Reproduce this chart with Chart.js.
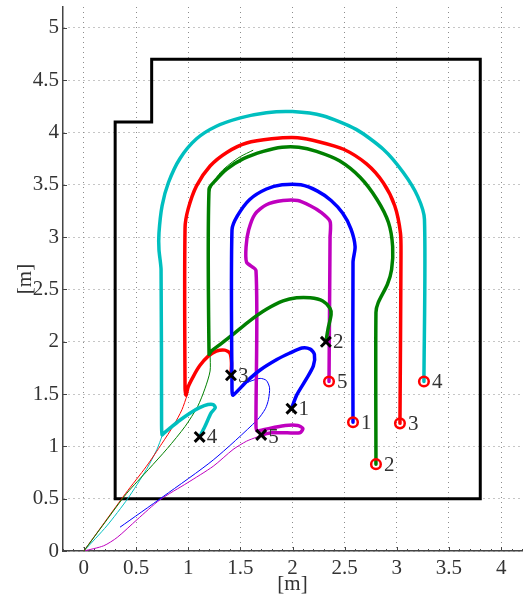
<!DOCTYPE html>
<html>
<head>
<meta charset="utf-8">
<script src="https://cdn.jsdelivr.net/npm/chart.js@4/dist/chart.umd.min.js"></script>
<style>
  html, body { margin: 0; padding: 0; background: #fff; }
</style>
</head>
<body>
<canvas id="chart" width="524" height="599"></canvas>
<script>
// axis ticks
const xTicks = [0, 0.5, 1, 1.5, 2, 2.5, 3, 3.5, 4];
const yTicks = [0, 0.5, 1, 1.5, 2, 2.5, 3, 3.5, 4, 4.5, 5];

// room outline
const wallX = [0.3, 0.3, 0.65, 0.65, 3.8, 3.8, 0.3];
const wallY = [0.5, 4.1, 4.1, 4.7, 4.7, 0.5, 0.5];

// start (x) and goal (o) of each robot
const robotNames = ['1', '2', '3', '4', '5'];
const startX = [1.99, 2.32, 1.41, 1.11, 1.70];
const startY = [1.36, 2.00, 1.68, 1.09, 1.11];
const endX = [2.58, 2.80, 3.03, 3.26, 2.35];
const endY = [1.23, 0.83, 1.22, 1.62, 1.62];
const colors = ['#0000ff', '#008000', '#ff0000', '#00bfbf', '#bf00bf'];

// thick paths (start -> goal)
const path1 = [[1.99,1.36],[2.04,1.49],[2.13,1.64],[2.20,1.77],[2.21,1.88],[2.17,1.93],[2.09,1.94],[1.97,1.89],[1.85,1.83],[1.69,1.73],[1.56,1.62],[1.43,1.49],[1.42,1.55],[1.42,3.07],[1.47,3.20],[1.59,3.36],[1.75,3.46],[1.90,3.50],[2.08,3.50],[2.24,3.44],[2.37,3.35],[2.48,3.23],[2.56,3.08],[2.60,2.91],[2.58,2.76],[2.58,1.23]];
const path2 = [[2.32,2.00],[2.34,2.12],[2.37,2.26],[2.36,2.32],[2.29,2.39],[2.17,2.42],[2.04,2.42],[1.91,2.39],[1.75,2.31],[1.59,2.20],[1.43,2.07],[1.30,1.97],[1.22,1.91],[1.20,1.88],[1.20,3.46],[1.26,3.54],[1.37,3.65],[1.53,3.75],[1.72,3.82],[1.90,3.86],[2.06,3.86],[2.23,3.82],[2.45,3.73],[2.65,3.57],[2.81,3.36],[2.92,3.14],[2.96,2.91],[2.95,2.69],[2.91,2.55],[2.82,2.37],[2.80,2.28],[2.80,0.83]];
const path3 = [[1.41,1.68],[1.415,1.80],[1.40,1.89],[1.35,1.92],[1.27,1.91],[1.19,1.86],[1.11,1.77],[1.05,1.67],[1.00,1.57],[0.98,1.49],[0.97,1.55],[0.97,3.09],[1.00,3.27],[1.08,3.49],[1.21,3.68],[1.37,3.81],[1.56,3.90],[1.80,3.94],[2.05,3.95],[2.26,3.91],[2.49,3.84],[2.71,3.70],[2.87,3.52],[2.98,3.30],[3.035,3.04],[3.04,2.82],[3.03,1.22]];
const path4 = [[1.11,1.09],[1.16,1.19],[1.22,1.32],[1.26,1.37],[1.24,1.40],[1.19,1.40],[1.11,1.37],[1.02,1.32],[0.92,1.25],[0.82,1.17],[0.76,1.12],[0.75,1.11],[0.745,1.2],[0.74,2.69],[0.72,2.88],[0.72,3.04],[0.75,3.30],[0.81,3.52],[0.92,3.75],[1.08,3.94],[1.27,4.06],[1.50,4.14],[1.75,4.19],[2.0,4.20],[2.29,4.16],[2.61,4.03],[2.87,3.84],[3.06,3.62],[3.20,3.39],[3.265,3.17],[3.26,1.62]];
const path5 = [[1.70,1.11],[1.80,1.13],[1.95,1.13],[2.07,1.13],[2.10,1.17],[2.05,1.20],[1.93,1.20],[1.82,1.18],[1.72,1.16],[1.66,1.15],[1.65,1.2],[1.65,2.68],[1.56,2.76],[1.555,2.91],[1.58,3.07],[1.64,3.22],[1.75,3.31],[1.91,3.35],[2.05,3.35],[2.17,3.30],[2.27,3.24],[2.36,3.15],[2.36,3.0],[2.35,1.62]];

// thin approach lines
const thin1 = [[0.35,0.23],[0.76,0.52],[1.24,0.87],[1.66,1.25],[1.74,1.36],[1.77,1.45],[1.78,1.56],[1.75,1.63],[1.69,1.65],[1.59,1.62],[1.50,1.57],[1.43,1.50]];
const thin2 = [[0,0],[0.2,0.27],[0.41,0.55],[0.62,0.78],[0.80,0.98],[0.97,1.19],[1.09,1.38],[1.16,1.55],[1.21,1.72],[1.21,1.88]];
const thin2b = [[1.20,3.42],[1.24,3.52],[1.31,3.62],[1.40,3.70],[1.50,3.77],[1.62,3.83]];
const thin3 = [[0,0],[0.40,0.55],[0.60,0.81],[0.75,1.03],[0.86,1.20],[0.94,1.35],[0.99,1.49]];
const thin4 = [[0,0],[0.22,0.24],[0.42,0.50],[0.60,0.78],[0.70,0.97],[0.75,1.10]];
const thin5 = [[0,0],[0.19,0.05],[0.32,0.13],[0.51,0.30],[0.73,0.49],[0.99,0.65],[1.24,0.81],[1.43,0.97],[1.56,1.05],[1.66,1.09],[1.70,1.11]];

const FONT = '"Liberation Serif", serif';
const pts = arr => arr.map(([x, y]) => ({ x, y }));
const zip = (xs, ys) => xs.map((x, i) => ({ x, y: ys[i] }));

function lineSet(data, color, width) {
    return {
        data: data,
        showLine: true,
        borderColor: color,
        borderWidth: width,
        pointRadius: 0,
        tension: 0.25,
        borderJoinStyle: 'round',
        borderCapStyle: 'round',
    };
}

// labels next to the markers
const labelPlugin = {
    id: 'robotLabels',
    afterDatasetsDraw(chart) {
        const { ctx, scales: { x, y } } = chart;
        ctx.save();
        ctx.font = '21px ' + FONT;
        ctx.fillStyle = '#333';
        ctx.textBaseline = 'middle';
        robotNames.forEach((name, i) => {
            ctx.fillText(name, x.getPixelForValue(startX[i]) + 7, y.getPixelForValue(startY[i]) + (i === 4 ? 3 : 1));
            ctx.fillText(name, x.getPixelForValue(endX[i]) + 8, y.getPixelForValue(endY[i]) + 1);
        });
        ctx.restore();
    }
};

// small inward tick marks like the original plot
const tickPlugin = {
    id: 'innerTicks',
    beforeDatasetsDraw(chart) {
        const { ctx, chartArea: a, scales: { x, y } } = chart;
        ctx.save();
        ctx.strokeStyle = '#444';
        ctx.lineWidth = 1;
        ctx.beginPath();
        for (let k = -2; k <= 42; k++) {
            const px = Math.round(x.getPixelForValue(k / 10)) + 0.5;
            const len = k % 5 === 0 ? 4 : 2;
            ctx.moveTo(px, a.bottom);
            ctx.lineTo(px, a.bottom - len);
        }
        yTicks.forEach(v => {
            const py = Math.round(y.getPixelForValue(v)) + 0.5;
            ctx.moveTo(a.left, py);
            ctx.lineTo(a.left + 4, py);
        });
        ctx.stroke();
        ctx.restore();
    }
};

function noPad(s) {
    s.paddingTop = 0;
    s.paddingBottom = 0;
    s.paddingLeft = 0;
    s.paddingRight = 0;
}

const ctx = document.getElementById('chart');
const myChart = new Chart(ctx, {
    type: 'scatter',
    data: {
        datasets: [
            {
                data: zip(startX, startY),
                pointStyle: 'crossRot',
                pointRadius: 7,
                borderColor: '#000',
                borderWidth: 3,
            },
            {
                data: zip(endX, endY),
                pointStyle: 'circle',
                pointRadius: 4.8,
                borderColor: '#ff0000',
                backgroundColor: 'rgba(0,0,0,0)',
                borderWidth: 2.5,
            },
            lineSet(pts(path1), colors[0], 3.5),
            lineSet(pts(path2), colors[1], 3.5),
            lineSet(pts(path3), colors[2], 3.5),
            lineSet(pts(path4), colors[3], 3.5),
            lineSet(pts(path5), colors[4], 3.5),
            lineSet(pts(thin1), colors[0], 1),
            lineSet(pts(thin2), colors[1], 1),
            lineSet(pts(thin2b), colors[1], 1),
            lineSet(pts(thin3), colors[2], 1),
            lineSet(pts(thin4), colors[3], 1),
            lineSet(pts(thin5), colors[4], 1),
            Object.assign(lineSet(zip(wallX, wallY), '#000', 3), { tension: 0, borderJoinStyle: 'miter', borderCapStyle: 'square' }),
        ]
    },
    options: {
        responsive: false,
        animation: false,
        devicePixelRatio: 1,
        layout: { autoPadding: false, padding: { top: 7, right: 2, left: 0, bottom: 0 } },
        plugins: {
            legend: { display: false },
            tooltip: { enabled: false },
        },
        scales: {
            x: {
                type: 'linear',
                min: -0.2,
                max: 4.2,
                afterBuildTicks: s => { s.ticks = xTicks.map(v => ({ value: v })); },
                afterFit: s => { s.height = 48; noPad(s); },
                ticks: {
                    callback: v => String(v),
                    font: { family: FONT, size: 21 },
                    color: '#333',
                    padding: 5,
                    maxRotation: 0,
                },
                grid: { color: '#8c8c8c', drawTicks: false, lineWidth: 1 },
                border: { display: true, color: '#444', width: 1.5, dash: [1, 4] },
                title: {
                    display: true,
                    text: '[m]',
                    font: { family: FONT, size: 21 },
                    color: '#333',
                    padding: 2,
                },
            },
            y: {
                type: 'linear',
                min: 0,
                max: 5.2,
                afterBuildTicks: s => { s.ticks = yTicks.map(v => ({ value: v })); },
                afterFit: s => { s.width = 63; noPad(s); },
                ticks: {
                    callback: v => String(v),
                    font: { family: FONT, size: 21 },
                    color: '#333',
                    padding: 4,
                },
                grid: { color: '#8c8c8c', drawTicks: false, lineWidth: 1 },
                border: { display: true, color: '#444', width: 1.5, dash: [1, 4] },
                title: {
                    display: true,
                    text: '[m]',
                    font: { family: FONT, size: 21 },
                    color: '#333',
                    padding: 13,
                },
            },
        },
    },
    plugins: [tickPlugin, labelPlugin],
});
</script>
</body>
</html>
